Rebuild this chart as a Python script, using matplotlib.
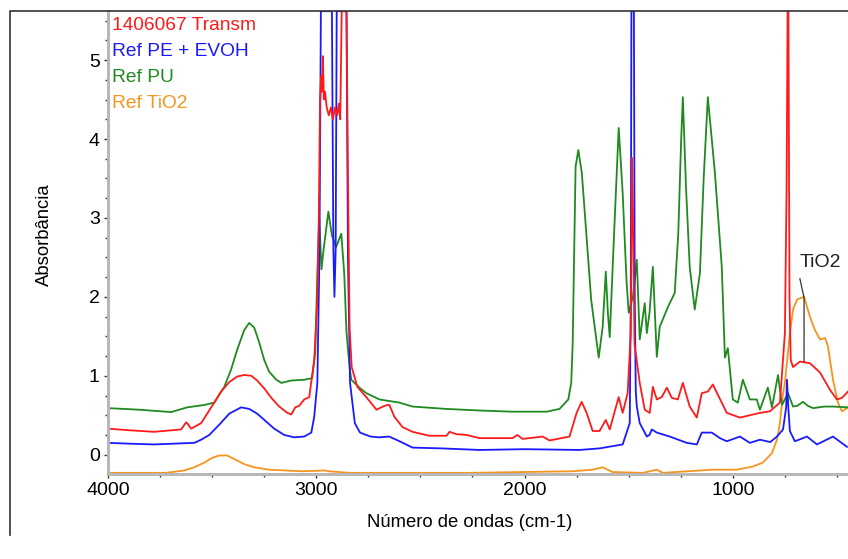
import matplotlib.pyplot as plt
from matplotlib.lines import Line2D
from matplotlib.ticker import MultipleLocator

plt.rcParams['font.family'] = ['Liberation Sans', 'DejaVu Sans']

# sample 1406067 (transmission)
s_wn = [4000, 3900, 3779, 3649, 3625, 3620, 3601, 3553, 3490, 3457, 3418, 3380, 3346, 3312,
        3284, 3250, 3216, 3178, 3139, 3120, 3101, 3082, 3058, 3034, 3010, 2995, 2988, 2982,
        2976, 2972, 2968, 2964, 2958, 2950, 2940, 2930, 2920, 2910, 2900, 2892, 2885, 2878,
        2855, 2848, 2840, 2830, 2803, 2760, 2711, 2680, 2659, 2649, 2625, 2586, 2538, 2457,
        2375, 2360, 2327, 2279, 2216, 2058, 2034, 2010, 1913, 1880, 1784, 1750, 1726, 1702,
        1673, 1640, 1610, 1591, 1548, 1529, 1505, 1490, 1484, 1478, 1472, 1447, 1423, 1399,
        1384, 1365, 1341, 1317, 1293, 1264, 1240, 1207, 1173, 1149, 1120, 1096, 1072, 1029,
        966, 870, 822, 774, 750, 742, 737, 733, 728, 722, 711, 678, 630, 581, 533, 500, 476, 447]
s_abs = [0.33, 0.31, 0.29, 0.32, 0.41, 0.40, 0.33, 0.40, 0.66, 0.80, 0.92, 0.99, 1.01, 1.00,
         0.94, 0.84, 0.72, 0.61, 0.53, 0.51, 0.60, 0.62, 0.70, 0.73, 1.20, 1.96, 3.00, 4.50,
         4.80, 4.60, 5.05, 4.50, 4.60, 4.40, 4.30, 4.40, 4.25, 4.40, 4.30, 4.45, 4.25, 5.62,
         5.62, 3.50, 1.60, 1.11, 0.86, 0.73, 0.57, 0.61, 0.63, 0.63, 0.48, 0.35, 0.29, 0.24,
         0.24, 0.29, 0.26, 0.25, 0.21, 0.21, 0.25, 0.20, 0.23, 0.18, 0.23, 0.53, 0.67, 0.53,
         0.30, 0.30, 0.44, 0.32, 0.73, 0.53, 0.78, 1.54, 3.76, 2.80, 1.40, 0.91, 0.57, 0.53,
         0.86, 0.70, 0.73, 0.85, 0.72, 0.70, 0.91, 0.61, 0.47, 0.78, 0.80, 0.89, 0.76, 0.53,
         0.47, 0.53, 0.55, 0.66, 1.54, 3.35, 5.62, 5.62, 2.00, 1.20, 1.11, 1.18, 1.16, 1.04,
         0.82, 0.70, 0.72, 0.80]

# reference PE + EVOH
pe_wn = [4000, 3900, 3779, 3586, 3553, 3514, 3466, 3418, 3361, 3322, 3284, 3245, 3202, 3154,
         3106, 3058, 3024, 3010, 2995, 2985, 2978, 2925, 2918, 2913, 2907, 2902, 2855, 2848,
         2838, 2815, 2790, 2740, 2700, 2650, 2600, 2538, 2400, 2216, 2000, 1736, 1640, 1529,
         1495, 1490, 1487, 1475, 1471, 1466, 1461, 1447, 1413, 1400, 1389, 1365, 1303, 1221,
         1173, 1149, 1101, 1062, 1029, 966, 918, 870, 820, 788, 759, 744, 740, 733, 726, 702,
         644, 596, 519, 452]
pe_abs = [0.15, 0.14, 0.13, 0.15, 0.19, 0.25, 0.38, 0.52, 0.60, 0.58, 0.52, 0.43, 0.33, 0.25,
          0.22, 0.23, 0.28, 0.48, 0.91, 2.50, 5.62, 5.62, 2.60, 2.00, 2.60, 5.62, 5.62, 2.50,
          0.91, 0.40, 0.28, 0.23, 0.22, 0.23, 0.17, 0.09, 0.08, 0.06, 0.07, 0.06, 0.08, 0.13,
          0.40, 2.00, 5.62, 5.62, 2.00, 0.80, 0.61, 0.40, 0.23, 0.25, 0.32, 0.28, 0.23, 0.15,
          0.13, 0.28, 0.28, 0.21, 0.17, 0.23, 0.15, 0.19, 0.16, 0.23, 0.32, 0.60, 0.95, 0.57,
          0.30, 0.17, 0.23, 0.13, 0.23, 0.10]

# reference PU
pu_wn = [4000, 3850, 3697, 3620, 3538, 3490, 3442, 3409, 3380, 3346, 3322, 3298, 3274, 3250,
         3226, 3192, 3168, 3120, 3058, 3020, 3005, 2995, 2986, 2975, 2965, 2942, 2925, 2905,
         2880, 2866, 2855, 2840, 2832, 2793, 2760, 2697, 2601, 2538, 2375, 2216, 2058, 1894,
         1832, 1790, 1776, 1769, 1755, 1742, 1725, 1680, 1644, 1625, 1610, 1600, 1591, 1570,
         1548, 1529, 1510, 1500, 1480, 1471, 1461, 1447, 1423, 1413, 1400, 1384, 1365, 1351,
         1312, 1279, 1262, 1248, 1240, 1225, 1207, 1183, 1158, 1140, 1120, 1086, 1053, 1038,
         1024, 1000, 976, 952, 918, 885, 870, 832, 812, 783, 764, 735, 711, 690, 663, 640,
         615, 560, 519, 447]
pu_abs = [0.59, 0.57, 0.54, 0.60, 0.63, 0.66, 0.86, 1.08, 1.33, 1.58, 1.67, 1.61, 1.42, 1.20,
          1.05, 0.95, 0.91, 0.94, 0.95, 0.97, 1.30, 2.30, 3.00, 2.35, 2.60, 3.08, 2.78, 2.63,
          2.80, 2.30, 1.55, 1.10, 0.95, 0.85, 0.78, 0.70, 0.66, 0.61, 0.58, 0.56, 0.545, 0.545,
          0.58, 0.70, 0.91, 1.40, 3.65, 3.86, 3.57, 1.96, 1.23, 1.62, 2.32, 1.80, 1.49, 2.81,
          4.14, 3.32, 2.18, 1.80, 2.00, 2.22, 2.47, 1.46, 1.92, 1.54, 1.80, 2.38, 1.24, 1.62,
          1.87, 2.05, 2.80, 4.00, 4.53, 3.40, 2.38, 1.84, 2.30, 3.50, 4.53, 3.57, 2.38, 1.23,
          1.35, 0.70, 0.66, 0.95, 0.70, 0.70, 0.57, 0.85, 0.60, 1.01, 0.63, 0.78, 0.61, 0.62,
          0.67, 0.62, 0.59, 0.61, 0.61, 0.60]

# reference TiO2
ti_wn = [4000, 3721, 3635, 3586, 3538, 3500, 3466, 3428, 3390, 3346, 3298, 3226, 3067, 2960,
         2940, 2841, 2264, 1769, 1673, 1625, 1577, 1432, 1365, 1336, 1096, 981, 904, 856, 812,
         788, 774, 760, 750, 726, 710, 690, 658, 630, 606, 581, 557, 543, 519, 495, 476, 452]
ti_abs = [-0.23, -0.23, -0.20, -0.16, -0.10, -0.04, -0.01, -0.01, -0.06, -0.12, -0.16, -0.19,
          -0.21, -0.20, -0.21, -0.23, -0.23, -0.21, -0.19, -0.16, -0.22, -0.23, -0.19, -0.23,
          -0.19, -0.19, -0.15, -0.10, 0.02, 0.19, 0.40, 0.75, 0.91, 1.54, 1.85, 1.97, 2.00,
          1.75, 1.58, 1.46, 1.48, 1.37, 0.95, 0.66, 0.55, 0.59]

names = ['1406067 Transm', 'Ref PE + EVOH', 'Ref PU', 'Ref TiO2']
colors = ['#ff1a1a', '#1a1aff', '#1f8a1f', '#f7941d']

fig = plt.figure(figsize=(8.48, 5.59), dpi=100)
ax = fig.add_axes([0.1274, 0.152, 0.8726, 0.828])

ax.plot(ti_wn, ti_abs, color=colors[3], lw=1.3)
ax.plot(pu_wn, pu_abs, color=colors[2], lw=1.3)
ax.plot(pe_wn, pe_abs, color=colors[1], lw=1.3)
ax.plot(s_wn, s_abs, color=colors[0], lw=1.3)

ax.set_xlim(4000, 447)
ax.set_ylim(-0.245, 5.62)

ax.xaxis.set_major_locator(MultipleLocator(1000))
ax.xaxis.set_minor_locator(MultipleLocator(250))
ax.yaxis.set_major_locator(MultipleLocator(1))
ax.yaxis.set_minor_locator(MultipleLocator(0.25))
ax.tick_params(which='both', direction='out', length=3, width=1, color='#333333',
               labelsize=14, pad=3)
ax.tick_params(which='minor', length=2)

for side in ['top', 'right']:
    ax.spines[side].set_visible(False)
for side in ['left', 'bottom']:
    ax.spines[side].set_color('#b8b8b8')
    ax.spines[side].set_linewidth(2.2)

# legend written as coloured text lines
ys = [0.970, 0.912, 0.856, 0.801]
for name, c, y in zip(names, colors, ys):
    ax.text(0.006, y, name, color=c, fontsize=13.8, va='center', ha='left',
            transform=ax.transAxes)

# TiO2 annotation
ax.plot([678, 658, 658], [2.23, 1.99, 1.18], color='#333333', lw=0.9)
ax.text(678, 2.44, 'TiO2', fontsize=14, va='center', ha='left', color='#222222')

fig.text(0.554, 0.066, 'Número de ondas (cm-1)', fontsize=13.3, ha='center', va='center')
fig.text(0.053, 0.58, 'Absorbância', fontsize=13.3, ha='center', va='center', rotation=90)

# outer frame
fig.add_artist(Line2D([0.012, 0.012, 1.0], [0.043, 0.980, 0.980],
                      transform=fig.transFigure, color='#333333', lw=1.2))

plt.savefig('out.png', dpi=100)
